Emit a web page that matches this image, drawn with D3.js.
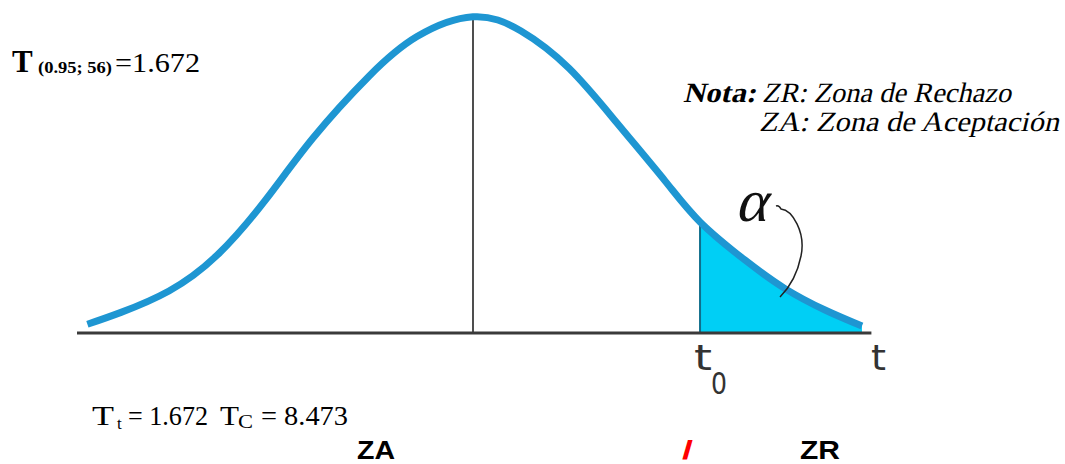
<!DOCTYPE html>
<html>
<head>
<meta charset="utf-8">
<script src="https://cdn.jsdelivr.net/npm/d3@7"></script>
<style>
  html, body { margin: 0; padding: 0; background: #fff; }
  svg { display: block; }
</style>
</head>
<body>
<svg id="chart" width="1065" height="464"></svg>
<script>
// ---- data ----
const curveT = [-2.41, -2.2, -1.9, -1.6, -1.3, -1.0, -0.65, -0.35, 0, 0.3, 0.6, 0.9, 1.2, 1.419, 1.7, 1.95, 2.2, 2.431];
const curveD = [0.011, 0.026, 0.053, 0.098, 0.167, 0.246, 0.324, 0.374, 0.399, 0.381, 0.334, 0.265, 0.192, 0.1402, 0.092, 0.056, 0.029, 0.0088];
const meanT = 0;
const t0 = 1.419;
const axisRange = [-2.475, 2.49];
const axisLabels = ["t", "0", "t"];
const headerLabel = ["T", "(0.95; 56)", "=1.672"];
const noteLines = ["Nota:", "ZR: Zona de Rechazo", "ZA: Zona de Aceptación"];
const statsLabel = ["T", "t", "= 1.672", "T", "C", "= 8.473"];
const zoneLabels = ["ZA", "/", "ZR"];

const pts = curveT.map((t, i) => ({ t, d: curveD[i] }));

const svg = d3.select("#chart");
const x = d3.scaleLinear().domain([-2.5, 2.5]).range([73, 873]);
const y = d3.scaleLinear().domain([0, 0.4]).range([333, 16]);
const crv = d3.curveNatural;

// shaded tail
const tail = pts.filter(p => p.t >= t0);
svg.append("path")
  .datum(tail)
  .attr("d", d3.area().x(p => x(p.t)).y0(y(0)).y1(p => y(p.d)).curve(crv))
  .attr("fill", "#00cff5");

// mean line
svg.append("line")
  .attr("x1", x(meanT)).attr("x2", x(meanT))
  .attr("y1", y(0.399)).attr("y2", y(0))
  .attr("stroke", "#222").attr("stroke-width", 1.6);

// t0 line
const d0 = curveD[curveT.indexOf(t0)];
svg.append("line")
  .attr("x1", x(t0)).attr("x2", x(t0))
  .attr("y1", y(d0)).attr("y2", y(0))
  .attr("stroke", "#0f6e8c").attr("stroke-width", 2);

// axis line
svg.append("line")
  .attr("x1", x(axisRange[0])).attr("x2", x(axisRange[1]))
  .attr("y1", y(0)).attr("y2", y(0))
  .attr("stroke", "#3a3a3a").attr("stroke-width", 3);

// curve
svg.append("path")
  .datum(pts)
  .attr("d", d3.line().x(p => x(p.t)).y(p => y(p.d)).curve(crv))
  .attr("fill", "none")
  .attr("stroke", "#1e96d2")
  .attr("stroke-width", 7)
  .attr("stroke-linecap", "butt");

const serif = "'Liberation Serif', 'Times New Roman', serif";
const sans = "'Liberation Sans', Arial, sans-serif";

function txt(s, xx, yy, opts) {
  const t = svg.append("text").text(s)
    .attr("font-family", opts.family || serif)
    .attr("font-size", opts.size)
    .attr("fill", opts.fill || "#000");
  if (opts.skew) {
    t.attr("x", 0).attr("y", 0).attr("transform", `translate(${xx},${yy}) skewX(${-opts.skew})`);
  } else {
    t.attr("x", xx).attr("y", yy);
  }
  if (opts.weight) t.attr("font-weight", opts.weight);
  if (opts.len) t.attr("textLength", opts.len).attr("lengthAdjust", "spacingAndGlyphs");
  return t;
}

// alpha + pointer
txt("α", 735, 221, { size: 60, skew: 14, fill: "#111" });
svg.append("path")
  .attr("d", "M776 206 Q779 205 781 209 C792 210 806 232 801 256 C797 276 788 289 780 297")
  .attr("fill", "none").attr("stroke", "#222").attr("stroke-width", 1.5);

// axis labels
const lsans = "'DejaVu Sans', sans-serif";
txt(axisLabels[0], 694, 370, { family: lsans, size: 36, len: 18, fill: "#333" });
txt(axisLabels[1], 711, 394, { family: lsans, size: 31, len: 16, fill: "#333" });
txt(axisLabels[2], 871, 370, { family: lsans, size: 36, len: 15, fill: "#333" });

// header
txt(headerLabel[0], 12, 72, { size: 31, weight: "bold" });
txt(headerLabel[1], 38, 73, { size: 16, weight: "bold", len: 74 });
txt(headerLabel[2], 115, 72, { size: 27, len: 85 });

// note (italic emulated by skew)
txt(noteLines[0], 683, 102, { size: 28, weight: "bold", skew: 13, len: 73 });
txt(noteLines[1], 762, 102, { size: 28, skew: 13, len: 249 });
txt(noteLines[2], 759, 131, { size: 28, skew: 13, len: 300 });

// stats
txt(statsLabel[0], 92, 425, { size: 28, len: 22 });
txt(statsLabel[1], 117, 429, { size: 17 });
txt(statsLabel[2], 128, 425, { size: 27, len: 80 });
txt(statsLabel[3], 220, 425, { size: 28, len: 19 });
txt(statsLabel[4], 238, 428, { size: 18, len: 15 });
txt(statsLabel[5], 261, 425, { size: 27, len: 87 });

// zones
txt(zoneLabels[0], 357, 459, { family: sans, size: 25, weight: "bold", len: 38 });
txt(zoneLabels[1], 682, 459, { family: sans, size: 25, weight: "bold", fill: "#ff0000", len: 11 });
txt(zoneLabels[2], 800, 459, { family: sans, size: 25, weight: "bold", len: 40 });
</script>
</body>
</html>
